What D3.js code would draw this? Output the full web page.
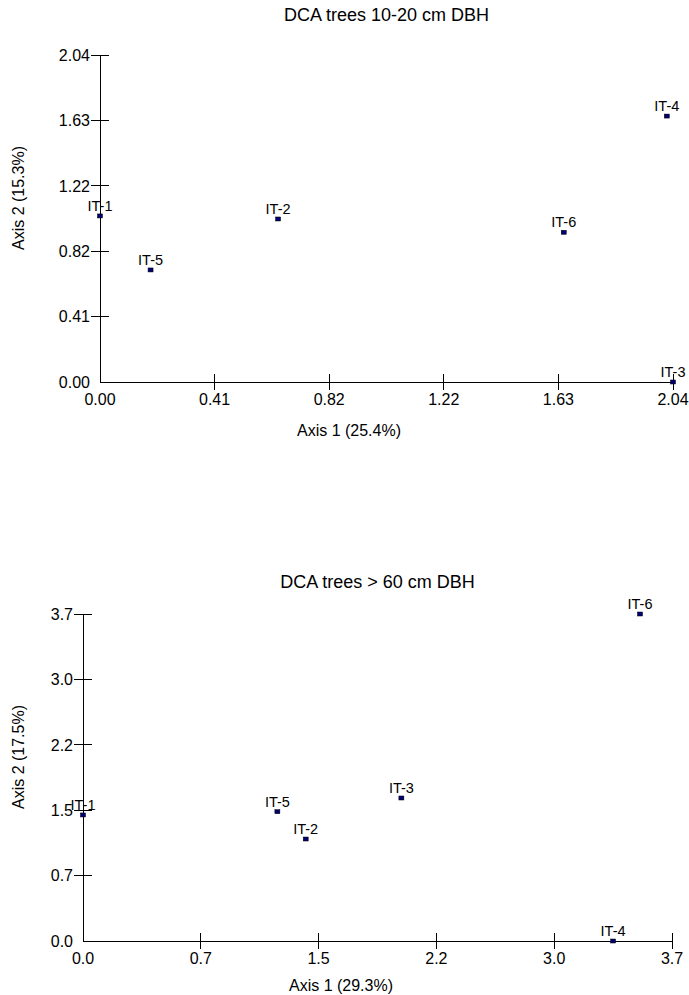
<!DOCTYPE html>
<html><head><meta charset="utf-8">
<script src="https://cdn.jsdelivr.net/npm/d3@7"></script>
<style>body{margin:0;background:#fff} svg{display:block} text{font-family:"Liberation Sans",Arial,sans-serif;fill:#000}</style>
</head><body><svg id="c" width="689" height="995"></svg>
<script>
// ---- data ----
const sitesTop = ["IT-1","IT-2","IT-3","IT-4","IT-5","IT-6"];
const axis1Top = [0.00, 0.634, 2.04, 2.018, 0.180, 1.651];
const axis2Top = [1.036, 1.017, 0.00, 1.659, 0.699, 0.934];
const ticksTop = ["0.00","0.41","0.82","1.22","1.63","2.04"];
const maxTop = 2.04;

const sitesBottom = ["IT-1","IT-2","IT-3","IT-4","IT-5","IT-6"];
const axis1Bottom = [0.00, 1.399, 2.00, 3.33, 1.221, 3.499];
const axis2Bottom = [1.426, 1.154, 1.618, 0.00, 1.463, 3.70];
const ticksBottom = ["0.0","0.7","1.5","2.2","3.0","3.7"];
const maxBottom = 3.7;

const panels = [
  {title:"DCA trees 10-20 cm DBH", xTitle:"Axis 1 (25.4%)", yTitle:"Axis 2 (15.3%)",
   sites:sitesTop, xs:axis1Top, ys:axis2Top, ticks:ticksTop, max:maxTop,
   left:100, right:673, top:55, bottom:382, titleY:21, xTitleY:436, yTitleX:24, yTitleY:198, xTitleX:349},
  {title:"DCA trees > 60 cm DBH", xTitle:"Axis 1 (29.3%)", yTitle:"Axis 2 (17.5%)",
   sites:sitesBottom, xs:axis1Bottom, ys:axis2Bottom, ticks:ticksBottom, max:maxBottom,
   left:83, right:672, top:614, bottom:941, titleY:588, xTitleY:991, yTitleX:24, yTitleY:757, xTitleX:341}
];

const svg = d3.select("#c");
panels.forEach(p => {
  const g = svg.append("g");
  const x = d3.scaleLinear().domain([0, p.max]).range([p.left, p.right]);
  const y = d3.scaleLinear().domain([0, p.max]).range([p.bottom, p.top]);
  const tv = p.ticks.map((_, i) => p.max * i / 5);

  g.append("line").attr("x1", p.left).attr("x2", p.right).attr("y1", p.bottom).attr("y2", p.bottom)
    .attr("stroke", "#000").attr("stroke-width", 1).attr("shape-rendering","crispEdges");
  g.append("line").attr("x1", p.left).attr("x2", p.left).attr("y1", p.top).attr("y2", p.bottom)
    .attr("stroke", "#000").attr("stroke-width", 1).attr("shape-rendering","crispEdges");

  tv.forEach((v, i) => {
    if (i > 0) g.append("line").attr("x1", x(v)).attr("x2", x(v)).attr("y1", p.bottom - 8).attr("y2", p.bottom + 8)
      .attr("stroke", "#000").attr("shape-rendering","crispEdges");
    g.append("text").attr("x", x(v)).attr("y", p.bottom + 23).attr("text-anchor", "middle")
      .attr("font-size", 16).text(p.ticks[i]);
  });
  tv.forEach((v, i) => {
    if (i > 0) g.append("line").attr("x1", p.left - 9).attr("x2", p.left + 9).attr("y1", y(v)).attr("y2", y(v))
      .attr("stroke", "#000").attr("shape-rendering","crispEdges");
    g.append("text").attr("x", p.left - 10).attr("y", y(v)).attr("dy", "0.36em").attr("text-anchor", "end")
      .attr("font-size", 16).text(p.ticks[i]);
  });

  g.append("text").attr("x", (p.left + p.right) / 2).attr("y", p.titleY).attr("text-anchor", "middle")
    .attr("font-size", 18).text(p.title);
  g.append("text").attr("x", p.xTitleX).attr("y", p.xTitleY).attr("text-anchor", "middle")
    .attr("font-size", 16).text(p.xTitle);
  g.append("text").attr("transform", `translate(${p.yTitleX},${p.yTitleY}) rotate(-90)`)
    .attr("text-anchor", "middle").attr("font-size", 16).text(p.yTitle);

  const data = p.sites.map((s, i) => ({s, a: p.xs[i], b: p.ys[i]}));
  g.selectAll("rect.pt").data(data).enter().append("rect").attr("class","pt")
    .attr("x", d => x(d.a) - 2.5).attr("y", d => y(d.b) - 2)
    .attr("width", 5).attr("height", 4).attr("fill", "#000070").attr("stroke", "#000").attr("stroke-width", 0.5);
  g.selectAll("text.lb").data(data).enter().append("text").attr("class","lb")
    .attr("x", d => x(d.a)).attr("y", d => y(d.b) - 5).attr("text-anchor", "middle")
    .attr("font-size", 14.5).text(d => d.s);
});
</script>
</body></html>
